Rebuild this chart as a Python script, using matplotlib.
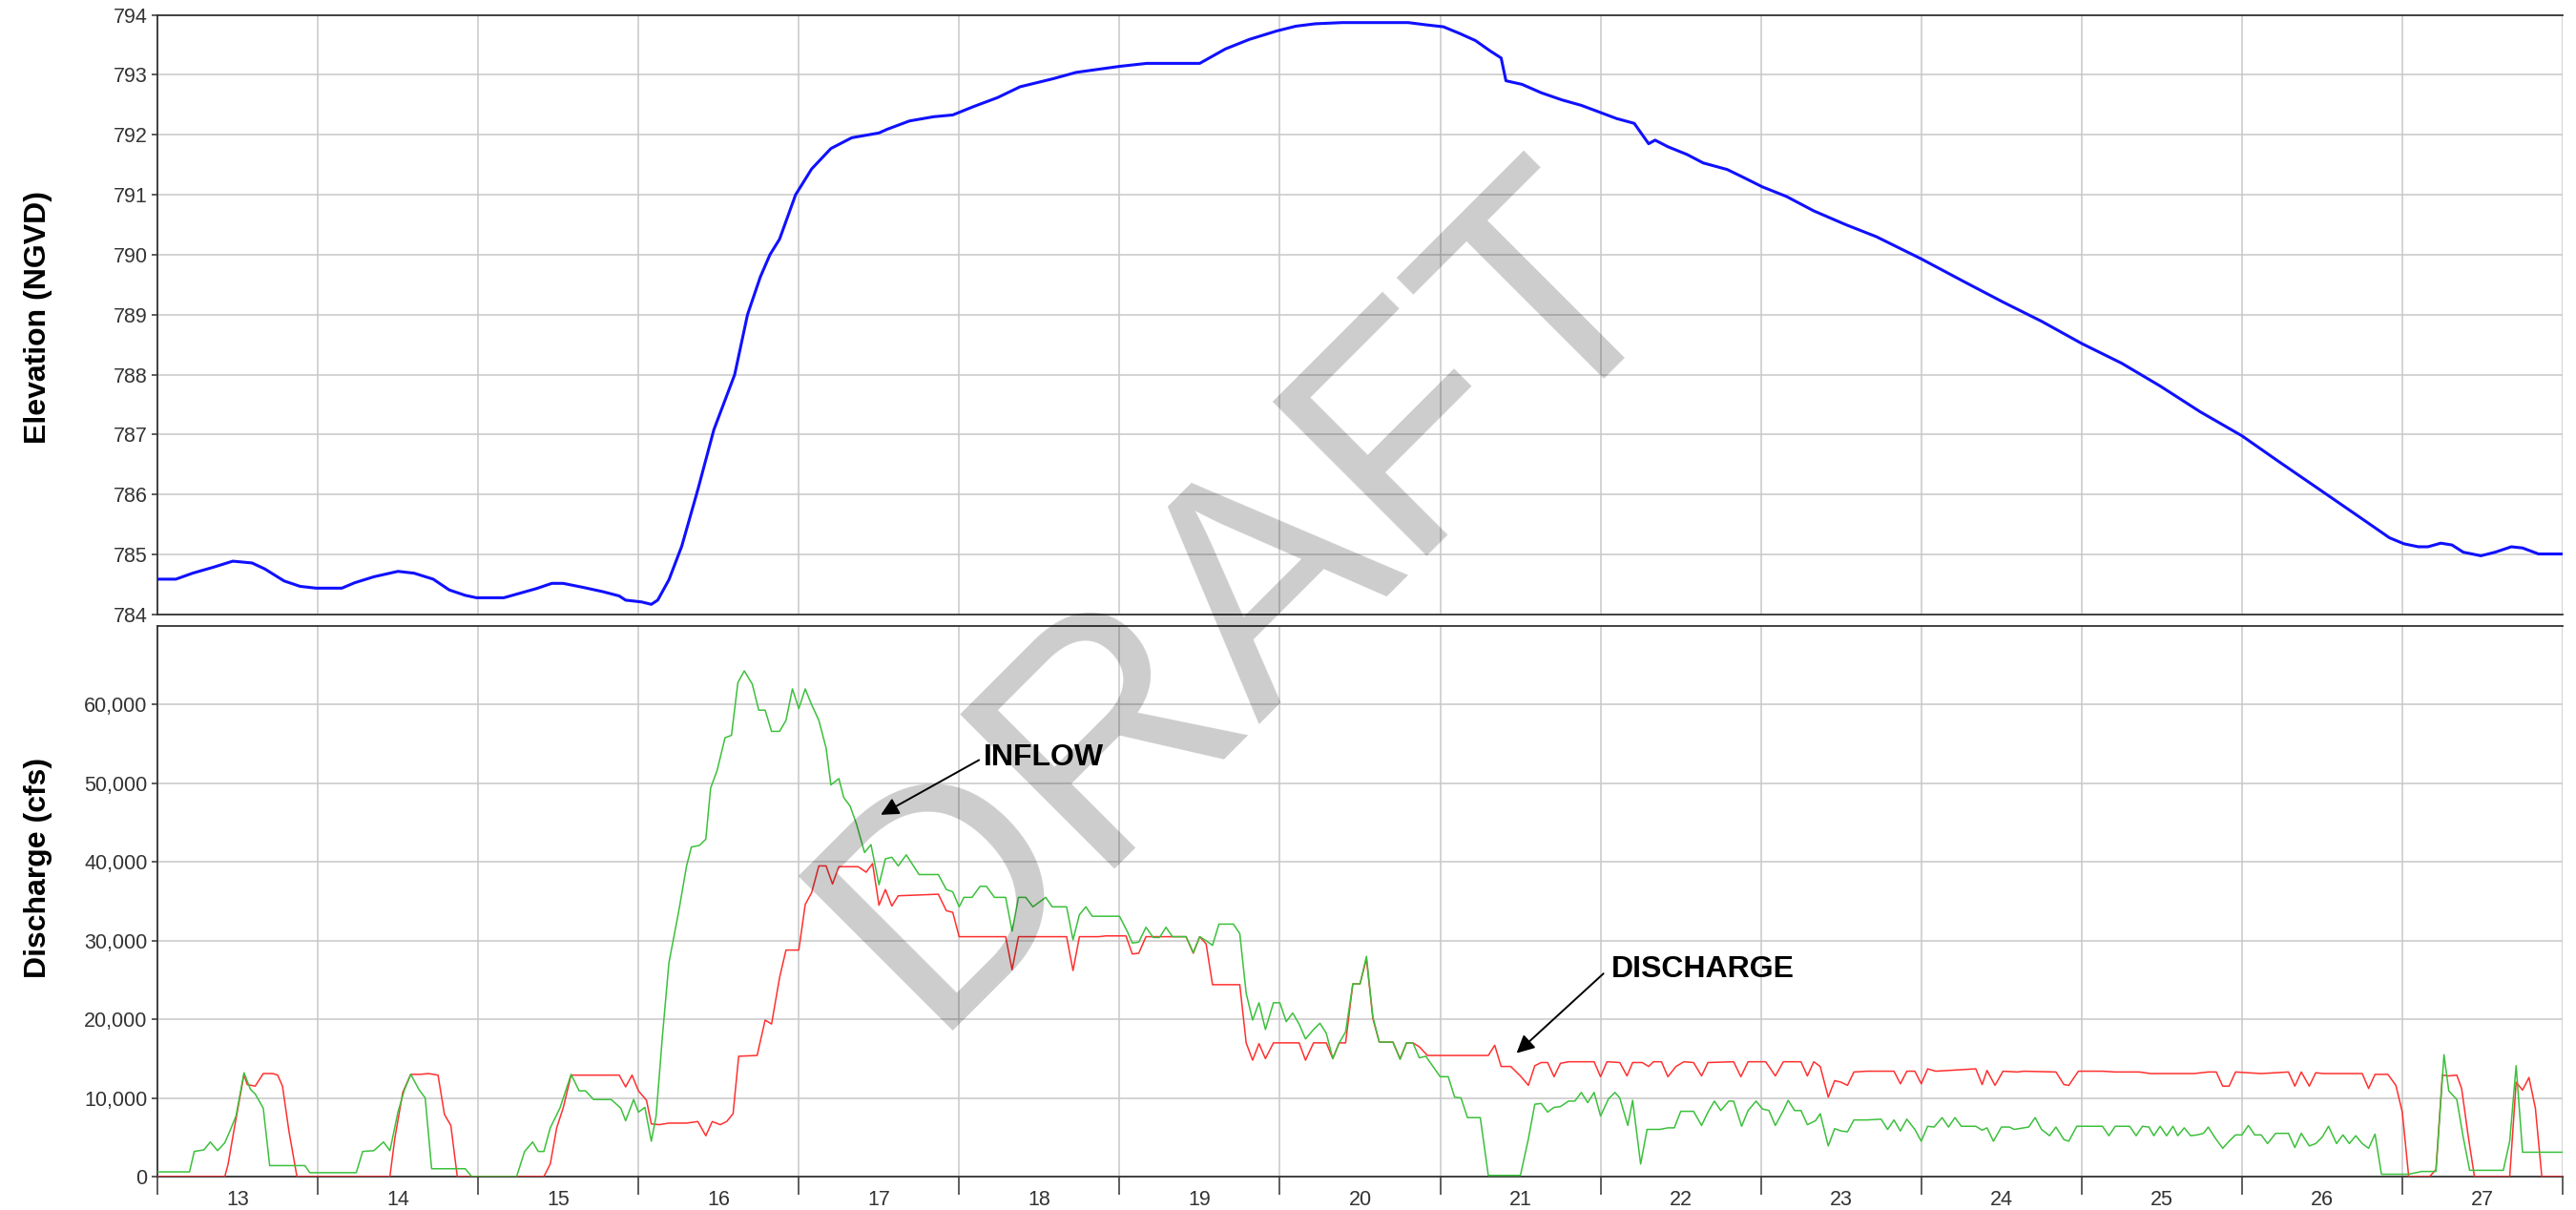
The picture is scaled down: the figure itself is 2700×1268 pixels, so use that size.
import matplotlib
matplotlib.use("Agg")
import matplotlib.pyplot as plt
from matplotlib.ticker import FuncFormatter, FixedLocator, NullFormatter

plt.rcParams['font.family'] = ['Liberation Sans', 'DejaVu Sans']

# ---------------- data ----------------
elev_day = [13.00, 13.115, 13.22, 13.35, 13.47, 13.59, 13.67, 13.79, 13.89, 13.99, 14.15, 14.23, 14.35,
            14.50, 14.60, 14.72, 14.82, 14.92, 14.99, 15.16, 15.24, 15.36, 15.46, 15.53, 15.66, 15.78,
            15.88, 15.92, 16.02, 16.08, 16.12, 16.19, 16.27, 16.37, 16.47, 16.60, 16.68, 16.76, 16.82,
            16.88, 16.98, 17.08, 17.20, 17.33, 17.50, 17.55, 17.69, 17.84, 17.96, 18.09, 18.24, 18.38,
            18.58, 18.73, 19.00, 19.17, 19.50, 19.66, 19.81, 19.98, 20.10, 20.22, 20.39, 20.80, 20.92,
            21.02, 21.12, 21.22, 21.31, 21.38, 21.41, 21.51, 21.63, 21.76, 21.88, 22.00, 22.10, 22.21,
            22.30, 22.34, 22.42, 22.54, 22.64, 22.79, 22.89, 23.01, 23.16, 23.33, 23.53, 23.72, 24.00,
            24.26, 24.51, 24.75, 25.00, 25.25, 25.49, 25.74, 26.00, 26.23, 26.47, 26.72, 26.92, 27.01,
            27.10, 27.16, 27.24, 27.31, 27.38, 27.49, 27.58, 27.68, 27.75, 27.85, 28.00]
elev_ft = [784.59, 784.59, 784.69, 784.79, 784.89, 784.86, 784.76, 784.56, 784.47, 784.44, 784.44, 784.53, 784.63,
           784.72, 784.69, 784.59, 784.41, 784.32, 784.28, 784.28, 784.34, 784.43, 784.52, 784.52, 784.45, 784.38,
           784.31, 784.24, 784.21, 784.17, 784.24, 784.58, 785.14, 786.08, 787.08, 788.00, 789.00, 789.63, 790.00,
           790.26, 791.00, 791.43, 791.77, 791.95, 792.03, 792.09, 792.23, 792.30, 792.33, 792.47, 792.62, 792.80,
           792.93, 793.04, 793.14, 793.19, 793.19, 793.43, 793.59, 793.73, 793.81, 793.85, 793.87, 793.87, 793.83,
           793.80, 793.69, 793.57, 793.40, 793.28, 792.90, 792.84, 792.70, 792.58, 792.49, 792.37, 792.27, 792.19,
           791.85, 791.91, 791.80, 791.67, 791.53, 791.42, 791.29, 791.13, 790.97, 790.73, 790.50, 790.30, 789.93,
           789.56, 789.21, 788.89, 788.52, 788.19, 787.81, 787.38, 786.98, 786.55, 786.11, 785.65, 785.28, 785.18,
           785.13, 785.13, 785.19, 785.16, 785.04, 784.98, 785.04, 785.13, 785.11, 785.01, 785.01]

inflow_day = [13.00, 13.20, 13.23, 13.29, 13.33, 13.375, 13.42, 13.45, 13.49, 13.54, 13.58, 13.61, 13.66, 13.70,
              13.92, 13.95, 14.24, 14.28, 14.35, 14.41, 14.45, 14.50, 14.54, 14.58, 14.63, 14.67, 14.71, 14.92,
              14.96, 15.24, 15.29, 15.34, 15.375, 15.41, 15.45, 15.51, 15.58, 15.63, 15.67, 15.72, 15.83, 15.89,
              15.92, 15.97, 16.00, 16.04, 16.08, 16.11, 16.15, 16.19, 16.25, 16.30, 16.33, 16.38, 16.42, 16.45,
              16.49, 16.54, 16.58, 16.62, 16.66, 16.71, 16.75, 16.79, 16.83, 16.88, 16.92, 16.96, 17.00, 17.04,
              17.08, 17.125, 17.17, 17.20, 17.25, 17.28, 17.32, 17.36, 17.41, 17.45, 17.50, 17.54, 17.58, 17.62,
              17.67, 17.75, 17.87, 17.92, 17.96, 18.00, 18.03, 18.08, 18.13, 18.17, 18.22, 18.29, 18.33, 18.37,
              18.415, 18.46, 18.54, 18.58, 18.67, 18.71, 18.75, 18.79, 18.83, 19.00, 19.05, 19.08, 19.12, 19.165,
              19.21, 19.25, 19.29, 19.33, 19.415, 19.46, 19.50, 19.54, 19.58, 19.62, 19.71, 19.75, 19.79, 19.83,
              19.87, 19.91, 19.96, 20.00, 20.04, 20.08, 20.12, 20.16, 20.21, 20.25, 20.29, 20.33, 20.37, 20.41,
              20.455, 20.50, 20.54, 20.58, 20.62, 20.705, 20.75, 20.79, 20.83, 20.87, 20.91, 20.955, 21.00, 21.05,
              21.09, 21.13, 21.17, 21.25, 21.30, 21.50, 21.55, 21.59, 21.63, 21.67, 21.71, 21.75, 21.80, 21.84,
              21.88, 21.92, 21.96, 22.00, 22.05, 22.09, 22.12, 22.17, 22.20, 22.25, 22.29, 22.37, 22.42, 22.46,
              22.50, 22.58, 22.63, 22.67, 22.71, 22.75, 22.80, 22.83, 22.88, 22.92, 22.97, 23.01, 23.05, 23.09,
              23.14, 23.17, 23.21, 23.25, 23.29, 23.34, 23.37, 23.42, 23.46, 23.50, 23.54, 23.58, 23.66, 23.75,
              23.79, 23.83, 23.87, 23.91, 23.96, 24.00, 24.04, 24.08, 24.13, 24.17, 24.21, 24.25, 24.34, 24.38,
              24.41, 24.45, 24.50, 24.55, 24.58, 24.67, 24.71, 24.75, 24.80, 24.84, 24.89, 24.92, 24.97, 25.13,
              25.17, 25.21, 25.30, 25.34, 25.38, 25.42, 25.45, 25.49, 25.53, 25.57, 25.60, 25.64, 25.68, 25.72,
              25.76, 25.79, 25.83, 25.88, 25.92, 25.96, 26.00, 26.04, 26.08, 26.12, 26.16, 26.21, 26.29, 26.33,
              26.37, 26.42, 26.46, 26.50, 26.54, 26.59, 26.63, 26.67, 26.71, 26.75, 26.79, 26.83, 26.87, 27.04,
              27.12, 27.21, 27.26, 27.29, 27.34, 27.38, 27.42, 27.63, 27.67, 27.71, 27.75, 28.00]
inflow_cfs = [600, 600, 3200, 3400, 4400, 3300, 4300, 5700, 7700, 13200, 11100, 10500, 8700, 1400,
              1400, 500, 500, 3200, 3300, 4400, 3300, 8200, 11000, 13000, 11100, 10000, 1000, 1000,
              0, 0, 3200, 4400, 3200, 3200, 6200, 8700, 13000, 10900, 10900, 9800, 9800, 8700,
              7100, 9800, 8200, 8800, 4500, 7700, 18000, 27200, 33600, 39500, 41900, 42100, 42900, 49400,
              51600, 55800, 56100, 62800, 64300, 62600, 59300, 59300, 56600, 56600, 58000, 62000, 59500, 62000,
              60000, 58000, 54500, 49800, 50600, 48200, 47100, 44800, 41200, 42200, 37100, 40400, 40600, 39500,
              40900, 38400, 38400, 36500, 36200, 34300, 35500, 35500, 36900, 36900, 35500, 35500, 31200, 35500,
              35500, 34300, 35500, 34300, 34300, 30100, 33300, 34300, 33100, 33100, 31100, 29700, 29800, 31700,
              30400, 30400, 31700, 30500, 30500, 28500, 30500, 30000, 29400, 32100, 32100, 30900, 23300, 19900,
              22100, 18700, 22100, 22100, 19700, 20800, 19400, 17500, 18700, 19500, 18200, 15000, 17000, 18400,
              24500, 24500, 28000, 20300, 17100, 17100, 14900, 17000, 17000, 15100, 15300, 14000, 12700, 12700,
              10100, 10000, 7500, 7500, 150, 150, 4800, 9200, 9300, 8200, 8800, 8900, 9600, 9600,
              10700, 9400, 10700, 7700, 9900, 10700, 10000, 6500, 9700, 1600, 6000, 6000, 6200, 6200,
              8300, 8300, 6500, 8200, 9600, 8400, 9600, 9600, 6400, 8400, 9600, 8600, 8400, 6500,
              8400, 9700, 8400, 8400, 6600, 7100, 8000, 3900, 6100, 5800, 5700, 7200, 7200, 7300,
              6000, 7200, 5800, 7300, 6000, 4500, 6400, 6300, 7500, 6300, 7500, 6400, 6400, 5900,
              6200, 4500, 6300, 6300, 6000, 6300, 7500, 6000, 5200, 6300, 4700, 4500, 6400, 6400,
              5200, 6400, 6400, 5200, 6400, 6300, 5200, 6400, 5200, 6400, 5200, 6200, 5200, 5300,
              5500, 6300, 5000, 3600, 4500, 5300, 5300, 6500, 5300, 5300, 4200, 5500, 5500, 3700,
              5500, 3900, 4200, 5000, 6400, 4200, 5300, 4200, 5200, 4200, 3600, 5400, 300, 300,
              650, 650, 15500, 10900, 9800, 5000, 800, 800, 4500, 14100, 3100, 3100]

discharge_day = [13.00, 13.42, 13.44, 13.48, 13.54, 13.56, 13.61, 13.66, 13.72, 13.75, 13.78, 13.82, 13.87,
                 14.45, 14.48, 14.53, 14.58, 14.64, 14.69, 14.75, 14.79, 14.83, 14.87, 15.41, 15.45, 15.49,
                 15.53, 15.58, 15.88, 15.92, 15.96, 16.00, 16.05, 16.08, 16.13, 16.19, 16.30, 16.37, 16.42,
                 16.46, 16.51, 16.55, 16.59, 16.625, 16.74, 16.79, 16.83, 16.88, 16.92, 17.00, 17.04, 17.08,
                 17.125, 17.17, 17.21, 17.25, 17.37, 17.42, 17.46, 17.50, 17.54, 17.58, 17.62, 17.87, 17.92,
                 17.96, 18.00, 18.29, 18.33, 18.37, 18.67, 18.71, 18.75, 18.87, 18.915, 19.04, 19.08, 19.12,
                 19.165, 19.415, 19.46, 19.50, 19.54, 19.58, 19.75, 19.79, 19.83, 19.87, 19.91, 19.96, 20.12,
                 20.16, 20.21, 20.29, 20.33, 20.37, 20.41, 20.455, 20.50, 20.54, 20.58, 20.62, 20.705, 20.75,
                 20.79, 20.83, 20.87, 20.92, 21.30, 21.34, 21.38, 21.44, 21.50, 21.55, 21.59, 21.63, 21.67,
                 21.71, 21.75, 21.80, 21.96, 22.00, 22.04, 22.12, 22.165, 22.20, 22.26, 22.30, 22.33, 22.38,
                 22.42, 22.47, 22.52, 22.58, 22.63, 22.67, 22.83, 22.875, 22.92, 23.03, 23.09, 23.14, 23.25,
                 23.29, 23.33, 23.37, 23.42, 23.46, 23.50, 23.54, 23.58, 23.66, 23.83, 23.87, 23.91, 23.96,
                 24.00, 24.04, 24.09, 24.34, 24.38, 24.41, 24.46, 24.51, 24.60, 24.64, 24.84, 24.89, 24.92,
                 24.98, 25.13, 25.21, 25.36, 25.43, 25.70, 25.79, 25.84, 25.88, 25.92, 25.96, 26.12, 26.29,
                 26.33, 26.37, 26.42, 26.46, 26.51, 26.75, 26.79, 26.83, 26.91, 26.96, 27.00, 27.04, 27.17,
                 27.21, 27.25, 27.29, 27.34, 27.37, 27.41, 27.45, 27.67, 27.71, 27.75, 27.79, 27.83, 27.87,
                 28.00]
discharge_cfs = [0, 0, 1500, 6200, 13000, 11700, 11500, 13100, 13100, 12900, 11500, 5800, 0,
                 0, 4800, 10700, 13000, 13000, 13100, 12900, 7900, 6500, 0, 0, 1600, 6200,
                 8700, 12900, 12900, 11400, 12900, 10900, 9700, 6700, 6600, 6800, 6800, 7000, 5200,
                 7000, 6600, 7000, 8000, 15300, 15400, 19900, 19400, 25300, 28800, 28800, 34600, 36100,
                 39500, 39500, 37200, 39400, 39400, 38700, 39800, 34500, 36500, 34400, 35700, 35900, 33800,
                 33600, 30500, 30500, 26300, 30500, 30500, 26200, 30500, 30500, 30600, 30600, 28300, 28400,
                 30500, 30500, 28400, 30500, 29600, 24400, 24400, 17000, 14800, 16900, 15000, 17000, 17000,
                 14800, 17000, 17000, 15000, 17000, 17000, 24500, 24500, 27700, 20100, 17100, 17100, 15000,
                 17000, 17000, 16500, 15400, 15400, 16700, 14000, 14000, 12800, 11600, 14100, 14500, 14500,
                 12700, 14400, 14600, 14600, 12700, 14600, 14500, 12800, 14500, 14500, 14000, 14600, 14600,
                 12700, 14000, 14600, 14500, 12800, 14500, 14600, 12700, 14600, 14600, 12800, 14600, 14600,
                 12800, 14600, 14000, 10100, 12200, 12000, 11600, 13300, 13400, 13400, 11800, 13400, 13400,
                 11800, 13700, 13400, 13700, 11700, 13500, 11600, 13400, 13300, 13400, 13300, 11700, 11600,
                 13400, 13400, 13300, 13300, 13100, 13100, 13300, 13300, 11500, 11500, 13300, 13100, 13300,
                 11500, 13300, 11500, 13200, 13100, 13100, 11200, 13000, 13000, 11600, 8200, 0, 0,
                 900, 12900, 12800, 12900, 11200, 5300, 0, 0, 12000, 11000, 12600, 8700, 0,
                 0]

day_ticks = list(range(13, 29))
day_labels = [str(d) for d in range(13, 28)]
elev_ticks = list(range(784, 795))
q_ticks = [0, 10000, 20000, 30000, 40000, 50000, 60000]

# ---------------- figure ----------------
W, H = 2700, 1268
fig = plt.figure(figsize=(W / 100, H / 100), dpi=100)

def rect(l, t, r, b):
    return [l / W, 1 - b / H, (r - l) / W, (b - t) / H]

ax1 = fig.add_axes(rect(165, 15.5, 2686, 644))
ax2 = fig.add_axes(rect(165, 656, 2686, 1233))

grid_kw = dict(color='#c8c8c8', linewidth=1.1)
spine_c = '#333333'
tick_c = '#333333'

for ax in (ax1, ax2):
    ax.set_xlim(13, 28)
    ax.set_axisbelow(True)
    ax.xaxis.set_major_locator(FixedLocator(day_ticks))
    ax.grid(True, which='major', **grid_kw)
    ax.spines['right'].set_visible(False)
    for s in ('left', 'bottom', 'top'):
        ax.spines[s].set_color(spine_c)
        ax.spines[s].set_linewidth(1.3)
    ax.tick_params(axis='y', which='major', direction='out', length=4.5, width=1.1,
                   color=spine_c, pad=3, labelsize=15.5, labelcolor=tick_c)

# top panel
ax1.plot(elev_day, elev_ft, color='#1010ff', linewidth=2.2, zorder=3)
ax1.set_ylim(784, 794)
ax1.set_yticks(elev_ticks)
ax1.tick_params(axis='x', which='both', length=0, labelbottom=False)

# bottom panel
ax2.plot(discharge_day, discharge_cfs, color='#ff3030', linewidth=1.1, zorder=3)
ax2.plot(inflow_day, inflow_cfs, color='#3cc03c', linewidth=1.1, zorder=4)
ax2.set_ylim(0, 70000)
ax2.set_yticks(q_ticks)
ax2.yaxis.set_major_formatter(FuncFormatter(lambda v, p: f"{int(v):,}"))
ax2.xaxis.set_major_formatter(NullFormatter())
ax2.set_xticks([d + 0.5 for d in range(13, 28)], labels=day_labels, minor=True)
ax2.tick_params(axis='x', which='major', direction='out', length=13.7, width=1.1, color=spine_c)
ax2.tick_params(axis='x', which='minor', length=0, pad=10, labelsize=15.5, labelcolor=tick_c)

# axis titles
fig.text(40 / W, 1 - 333 / H, 'Elevation (NGVD)', rotation=90, ha='center', va='center',
         fontsize=23, fontweight='bold', color='black')
fig.text(40 / W, 1 - 909 / H, 'Discharge (cfs)', rotation=90, ha='center', va='center',
         fontsize=23, fontweight='bold', color='black')

# annotations
arrow_kw = dict(arrowstyle='-|>', color='black', lw=1.4, mutation_scale=28, shrinkA=0, shrinkB=0)
ax2.annotate('', xy=(17.511, 46000), xytext=(18.124, 52960), arrowprops=arrow_kw, zorder=6)
ax2.text(18.15, 52230, 'INFLOW', ha='left', va='baseline', fontsize=23, fontweight='bold',
         color='black', zorder=6)
ax2.annotate('', xy=(21.476, 15690), xytext=(22.018, 25810), arrowprops=arrow_kw, zorder=6)
ax2.text(22.066, 25390, 'DISCHARGE', ha='left', va='baseline', fontsize=23, fontweight='bold',
         color='black', zorder=6)

# watermark
fig.text(972 / W, 1 - 1080 / H, 'DRAFT', rotation=45, rotation_mode='anchor', ha='left',
         va='baseline', fontsize=240, color='black', alpha=0.2, zorder=10)

fig.savefig('out.png', dpi=100)
